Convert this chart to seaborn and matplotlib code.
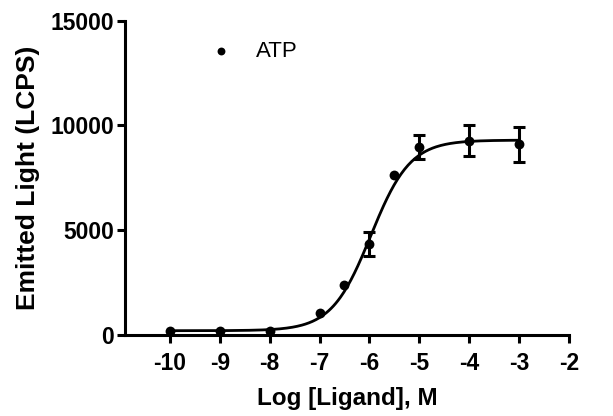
import matplotlib
matplotlib.use("Agg")
import matplotlib.pyplot as plt
import numpy as np
import pandas as pd
import seaborn as sns

log_ligand = [-10, -9, -8, -7, -6.5, -6, -5.5, -5, -4, -3]
emitted = [200, 200, 200, 1040, 2360, 4350, 7650, 8970, 9280, 9110]
sem = [0, 0, 0, 0, 0, 560, 0, 590, 720, 840]

# four-parameter logistic fit shown as the curve
fit_bottom = 200
fit_top = 9300
fit_log_ec50 = -5.97
fit_hill = 1.1

x_ticks = [-10, -9, -8, -7, -6, -5, -4, -3, -2]
y_ticks = [0, 5000, 10000, 15000]

sns.set_style("ticks")
plt.rcParams["font.family"] = ["Liberation Sans", "DejaVu Sans"]
plt.rcParams["text.color"] = "black"
plt.rcParams["axes.labelcolor"] = "black"
plt.rcParams["xtick.color"] = "black"
plt.rcParams["ytick.color"] = "black"
plt.rcParams["axes.edgecolor"] = "black"

fig = plt.figure(figsize=(6.13, 4.16), dpi=100)
ax = fig.add_axes([0.204, 0.195, 0.724, 0.755])

df = pd.DataFrame({"x": log_ligand, "y": emitted, "err": sem})
xs = np.linspace(-10, -3, 300)
curve = pd.DataFrame({
    "x": xs,
    "y": fit_bottom + (fit_top - fit_bottom) / (1 + 10 ** ((fit_log_ec50 - xs) * fit_hill)),
})
sns.lineplot(data=curve, x="x", y="y", ax=ax, color="black", linewidth=2.0)

has_err = df[df["err"] > 0]
ax.errorbar(has_err["x"], has_err["y"], yerr=has_err["err"], fmt="none",
            ecolor="black", elinewidth=2.2, capsize=4, capthick=2.2)
sns.scatterplot(data=df, x="x", y="y", ax=ax, color="black", s=50,
                edgecolor="black", linewidth=0, label="ATP", zorder=5)

ax.set_xlim(-10.9, -2)
ax.set_ylim(0, 15000)
ax.set_xticks(x_ticks)
ax.set_yticks(y_ticks)
ax.set_xticklabels([str(t) for t in x_ticks])
ax.set_yticklabels([str(t) for t in y_ticks])
ax.tick_params(width=2.2, length=6, labelsize=16.5)
ax.tick_params(axis="x", pad=6)
ax.tick_params(axis="y", pad=2)
for lab in ax.get_xticklabels() + ax.get_yticklabels():
    lab.set_fontweight("bold")
for side in ["top", "right"]:
    ax.spines[side].set_visible(False)
for side in ["left", "bottom"]:
    ax.spines[side].set_linewidth(2.2)

ax.set_xlabel("Log [Ligand], M", fontsize=17.5, fontweight="bold", labelpad=9)
ax.set_ylabel("Emitted Light (LCPS)", fontsize=19, fontweight="bold", labelpad=7)

leg = ax.legend(loc="upper left", bbox_to_anchor=(0.12, 1.0), frameon=False,
                fontsize=16, handletextpad=0.6, markerscale=0.8)

fig.savefig("out.png", dpi=100)
